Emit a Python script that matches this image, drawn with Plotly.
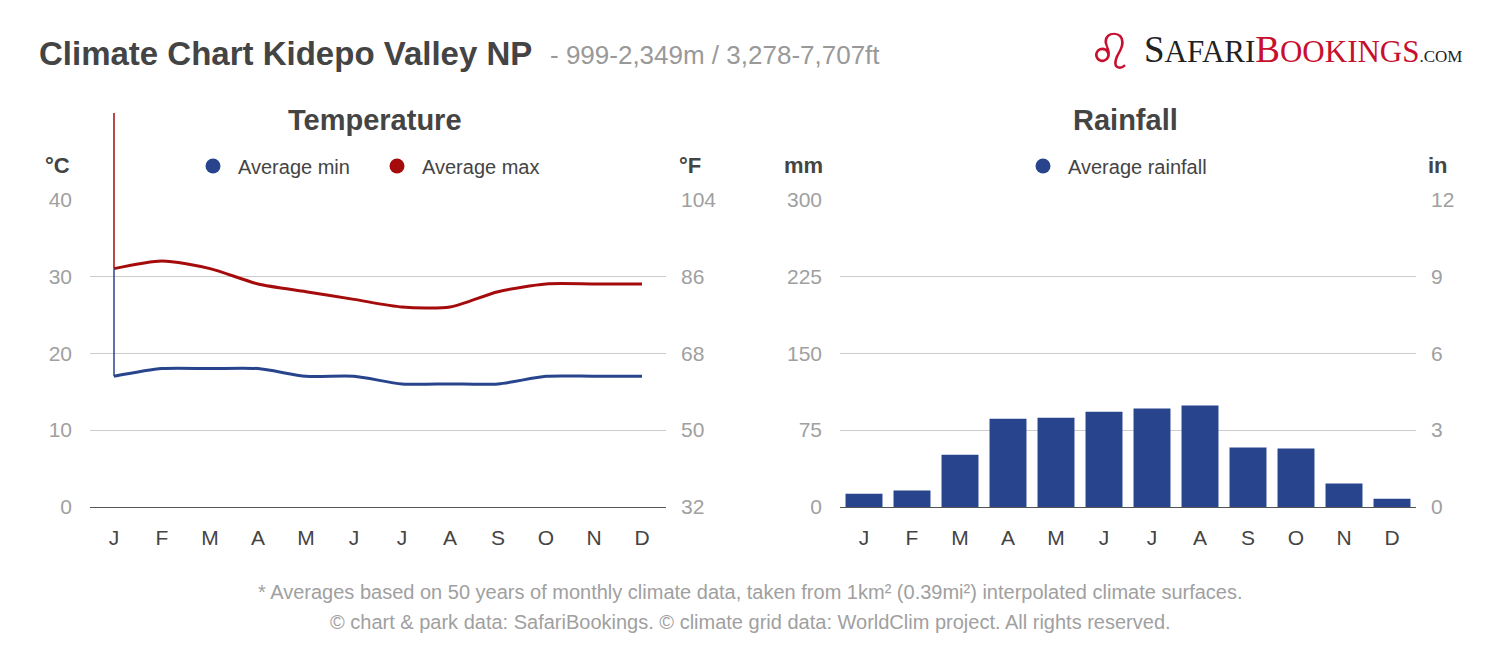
import plotly.graph_objects as go

months = ["J", "F", "M", "A", "M ", "J ", "J  ", "A ", "S", "O", "N", "D"]
month_labels = ["J", "F", "M", "A", "M", "J", "J", "A", "S", "O", "N", "D"]
tmin = [17, 18, 18, 18, 17, 17, 16, 16, 16, 17, 17, 17]
tmax = [31, 32, 31, 29, 28, 27, 26, 26, 28, 29, 29, 29]
rain = [13, 16, 51, 86, 87, 93, 96, 99, 58, 57, 23, 8]

c_ticks = [0, 10, 20, 30, 40]
f_ticks = [32, 50, 68, 86, 104]
mm_ticks = [0, 75, 150, 225, 300]
in_ticks = [0, 3, 6, 9, 12]

BLUE = "#27448C"
RED = "#A50B0B"
# the page body adds an 8px margin; the figure fills the rest of the 1500x652 window
OFF = 8
W, H = 1500 - 2 * OFF, 652 - 2 * OFF
FONT = "Liberation Sans"


def px(x):
    return (x - OFF) / W


def py(y):
    return 1 - (y - OFF) / H


ydom = [py(507), py(199)]
xdom1 = [px(90), px(666)]
xdom2 = [px(840), px(1416)]

fig = go.Figure()

fig.add_trace(go.Scatter(x=months, y=tmin, mode="lines", line=dict(color=BLUE, width=3, shape="spline", smoothing=0.7),
                         xaxis="x", yaxis="y", showlegend=False, hoverinfo="skip"))
fig.add_trace(go.Scatter(x=months, y=tmax, mode="lines", line=dict(color=RED, width=3, shape="spline", smoothing=0.7),
                         xaxis="x", yaxis="y", showlegend=False, hoverinfo="skip"))
fig.add_trace(go.Scatter(x=months, y=[None] * 12, mode="lines", xaxis="x", yaxis="y2", showlegend=False, hoverinfo="skip"))

fig.add_trace(go.Bar(x=months, y=rain, marker=dict(color=BLUE, line=dict(width=0)), xaxis="x2", yaxis="y3",
                     showlegend=False, hoverinfo="skip"))
fig.add_trace(go.Scatter(x=months, y=[None] * 12, mode="lines", xaxis="x2", yaxis="y4", showlegend=False, hoverinfo="skip"))

# legend entries
fig.add_trace(go.Scatter(x=[None], y=[None], mode="markers", name="Average min",
                         marker=dict(color=BLUE, size=15, symbol="circle"), xaxis="x", yaxis="y", legend="legend"))
fig.add_trace(go.Scatter(x=[None], y=[None], mode="markers", name="Average max",
                         marker=dict(color=RED, size=15, symbol="circle"), xaxis="x", yaxis="y", legend="legend"))
fig.add_trace(go.Scatter(x=[None], y=[None], mode="markers", name="Average rainfall",
                         marker=dict(color=BLUE, size=15, symbol="circle"), xaxis="x2", yaxis="y3", legend="legend2"))

xcommon = dict(type="category", categoryorder="array", categoryarray=months, tickmode="array",
               tickvals=months, ticktext=month_labels, range=[-0.5, 11.5], showgrid=False,
               showline=True, linecolor="#555555", linewidth=1, ticks="", zeroline=False, automargin=False,
               tickfont=dict(family=FONT, size=21, color="#444444"), ticklabelstandoff=12, fixedrange=True)
ycommon = dict(showline=False, ticks="", zeroline=False, tickfont=dict(family=FONT, size=21, color="#A0A0A0"),
               tickmode="array", fixedrange=True, automargin=False)

fig.update_layout(
    width=W, height=H, margin=dict(l=0, r=0, t=0, b=0, pad=0, autoexpand=False),
    paper_bgcolor="white", plot_bgcolor="white",
    bargap=0.23,
    xaxis=dict(domain=xdom1, anchor="y", **xcommon),
    xaxis2=dict(domain=xdom2, anchor="y3", **xcommon),
    yaxis=dict(domain=ydom, anchor="x", range=[0, 40.05], tickvals=c_ticks, showgrid=True, gridcolor="#CCCCCC",
               gridwidth=1, ticklabelstandoff=17, **ycommon),
    yaxis2=dict(overlaying="y", side="right", anchor="x", range=[32, 104.09], tickvals=f_ticks, showgrid=False,
                ticklabelstandoff=14, **ycommon),
    yaxis3=dict(domain=ydom, anchor="x2", range=[0, 300.4], tickvals=mm_ticks, showgrid=True, gridcolor="#CCCCCC",
                gridwidth=1, ticklabelstandoff=17, **ycommon),
    yaxis4=dict(overlaying="y3", side="right", anchor="x2", range=[0, 12.016], tickvals=in_ticks, showgrid=False,
                ticklabelstandoff=14, **ycommon),
    legend=dict(orientation="h", x=px(372), xanchor="center", y=py(166), yanchor="middle",
                font=dict(family=FONT, size=20, color="#444444"), itemwidth=40, entrywidth=129,
                bgcolor="rgba(0,0,0,0)", traceorder="normal"),
    legend2=dict(orientation="h", x=px(1115), xanchor="center", y=py(166), yanchor="middle",
                 font=dict(family=FONT, size=20, color="#444444"), itemwidth=40, bgcolor="rgba(0,0,0,0)"),
)


def ann(text, x, y, size, color, bold=False, xanchor="center", family=FONT):
    t = f"<b>{text}</b>" if bold else text
    fig.add_annotation(text=t, x=px(x), y=py(y), xref="paper", yref="paper", showarrow=False,
                       xanchor=xanchor, yanchor="middle", font=dict(family=family, size=size, color=color))


ann("Climate Chart Kidepo Valley NP", 37, 53, 33, "#444444", bold=True, xanchor="left")
ann("- 999-2,349m / 3,278-7,707ft", 548, 55, 26, "#999999", xanchor="left")
ann("Temperature", 375, 120, 29, "#444444", bold=True)
ann("Rainfall", 1125, 120, 29, "#444444", bold=True)
ann("°C", 58, 165, 22, "#444444", bold=True)
ann("°F", 690, 165, 22, "#444444", bold=True)
ann("mm", 803, 165, 22, "#444444", bold=True)
ann("in", 1438, 165, 22, "#444444", bold=True)
ann("* Averages based on 50 years of monthly climate data, taken from 1km² (0.39mi²) interpolated climate surfaces.",
    750, 592, 20, "#A0A0A0")
ann("© chart &amp; park data: SafariBookings. © climate grid data: WorldClim project. All rights reserved.",
    750, 622, 20, "#A0A0A0")

logo = ("<span style='font-size:37px;color:#222222'>S</span><span style='font-size:31px;color:#222222'>AFARI</span>"
        "<span style='font-size:37px;color:#C8102E'>B</span><span style='font-size:31px;color:#C8102E'>OOKINGS</span>"
        "<span style='font-size:17px;color:#222222'>.COM</span>")
fig.add_annotation(text=logo, x=px(1142), y=py(50), xref="paper", yref="paper", showarrow=False,
                   xanchor="left", yanchor="middle", font=dict(family="Liberation Serif", size=31, color="#222222"))
fig.add_annotation(text="♌", x=px(1110), y=py(52), xref="paper", yref="paper", showarrow=False,
                   xanchor="center", yanchor="middle", font=dict(family="DejaVu Sans", size=50, color="#C8102E"))

# start-of-series vertical strokes at the first month
top_paper = py(113)
ymax_paper = ydom[0] + tmax[0] / 40.05 * (ydom[1] - ydom[0])
fig.add_shape(type="line", xref="x", yref="paper", x0=0, x1=0, y0=ymax_paper, y1=top_paper,
              line=dict(color=RED, width=1.5), layer="above")
fig.add_shape(type="line", xref="x", yref="y", x0=0, x1=0, y0=tmin[0], y1=tmax[0],
              line=dict(color=BLUE, width=1.5), layer="above")

fig.write_html("out.html")
